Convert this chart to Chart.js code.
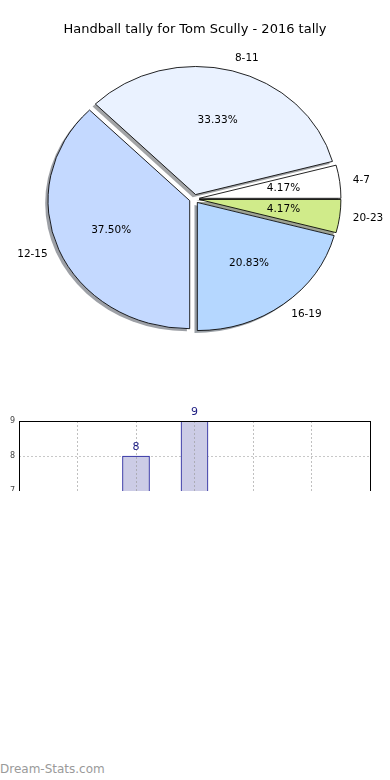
<!DOCTYPE html>
<html><head><meta charset="utf-8">
<script src="https://cdn.jsdelivr.net/npm/chart.js@4.4.1/dist/chart.umd.min.js"></script>
<style>
html,body{margin:0;padding:0;background:#fff;width:390px;height:780px;overflow:hidden;position:relative}
#pieBox{position:absolute;left:0;top:0;width:390px;height:400px}
#barClip{position:absolute;left:0;top:400px;width:390px;height:91px;overflow:hidden}
#barBox{position:absolute;left:0;top:0;width:390px;height:400px}
#wm{position:absolute;left:0;top:762px;font:12px "DejaVu Sans";line-height:14px;color:#9a9a9a}
</style></head><body>
<div id="pieBox"><canvas id="pie"></canvas></div>
<div id="barClip"><div id="barBox"><canvas id="bar"></canvas></div></div>
<div id="wm">Dream-Stats.com</div>
<script>
const chartTitle = 'Handball tally for Tom Scully - 2016 tally';
const categories = ['4-7', '8-11', '12-15', '16-19', '20-23'];
const tally = [1, 8, 9, 5, 1];
const pieColors = ['#ffffff', '#eaf2ff', '#c4d9ff', '#b5d7ff', '#d0eb8a'];
const barLabels = ['', '4-7', '8-11', '12-15', '16-19', '20-23', ''];
const barValues = [null, 1, 8, 9, 5, 1, null];

const FONT = '"DejaVu Sans", "Liberation Sans", sans-serif';
const K = 128.1 / 141.7;        // vertical squash of the pie (ellipse)
const EXPLODE = 0.035;          // fraction of radius
const SHADOW_OFF = 0.02;        // fraction of radius

const total = tally.reduce((s, v) => s + v, 0);
const order = [4, 3, 2, 1, 0];  // drawn clockwise from 3 o'clock

function hexRgb(h){h=h.replace('#','');return [0,2,4].map(i=>parseInt(h.substr(i,2),16));}

const piePlugin = {
  id: 'piePlugin',
  beforeDatasetsDraw(chart) {
    const ctx = chart.ctx;
    const meta = chart.getDatasetMeta(0);
    const a0 = meta.data[0];
    const cx = a0.x, cy = a0.y;
    ctx.save();
    ctx.translate(cx, cy); ctx.scale(1, K); ctx.translate(-cx, -cy);
    meta.data.forEach((a, i) => {
      const mid = (a.startAngle + a.endAngle) / 2;
      const R = a.outerRadius, e = EXPLODE * R;
      const x = a.x + Math.cos(mid) * e - SHADOW_OFF * R;
      const y = a.y + Math.sin(mid) * e + SHADOW_OFF * R;
      const c = hexRgb(chart.data.datasets[0].backgroundColor[i]);
      ctx.fillStyle = `rgba(${c.map(v=>Math.round(v*0.3)).join(',')},0.5)`;
      ctx.beginPath(); ctx.moveTo(x, y); ctx.arc(x, y, R, a.startAngle, a.endAngle); ctx.closePath(); ctx.fill();
    });
    meta.data.forEach(a => {
      const mid = (a.startAngle + a.endAngle) / 2;
      const e = EXPLODE * a.outerRadius;
      ctx.save();
      ctx.translate(Math.cos(mid) * e, Math.sin(mid) * e);
      a.draw(ctx);
      ctx.restore();
    });
    ctx.restore();
    return false;
  },
  beforeDatasetDraw() { return false; },
  afterDraw(chart) {
    const ctx = chart.ctx;
    const meta = chart.getDatasetMeta(0);
    ctx.save();
    ctx.fillStyle = '#000';
    ctx.font = '13px ' + FONT;
    ctx.textAlign = 'center'; ctx.textBaseline = 'middle';
    ctx.fillText(chartTitle, 195, 30);
    ctx.font = '10.5px ' + FONT;
    meta.data.forEach((a, i) => {
      const mid = (a.startAngle + a.endAngle) / 2;
      const R = a.outerRadius, e = EXPLODE * R;
      const cos = Math.cos(mid), sin = Math.sin(mid);
      const v = chart.data.datasets[0].data[i];
      let d = 0.6 * R + e;
      ctx.textAlign = 'center';
      ctx.fillText((v / total * 100).toFixed(2) + '%', a.x + cos * d, a.y + sin * d * K);
      d = 1.1 * R + e;
      ctx.textAlign = cos >= 0 ? 'left' : 'right';
      ctx.fillText(chart.data.labels[i], a.x + cos * d + (cos >= 0 ? -1 : 2), a.y + sin * d * K);
    });
    ctx.restore();
  }
};

new Chart(document.getElementById('pie'), {
  type: 'pie',
  data: {
    labels: order.map(i => categories[i]),
    datasets: [{
      data: order.map(i => tally[i]),
      backgroundColor: order.map(i => pieColors[i]),
      borderColor: '#000', borderWidth: 0.9, borderJoinStyle: 'miter', offset: 0
    }]
  },
  options: {
    responsive: true, maintainAspectRatio: false, animation: false, events: [],
    rotation: 90, radius: 141.7,
    layout: { padding: { left: 0, right: 1.4, top: 0, bottom: 2.2 } },
    plugins: { legend: { display: false }, tooltip: { enabled: false } }
  },
  plugins: [piePlugin]
});

const barPlugin = {
  id: 'barPlugin',
  afterDraw(chart) {
    const ctx = chart.ctx, a = chart.chartArea;
    ctx.save();
    ctx.strokeStyle = '#000'; ctx.lineWidth = 1;
    ctx.strokeRect(Math.round(a.left) + 0.5, Math.round(a.top) + 0.5, Math.round(a.right - a.left), Math.round(a.bottom - a.top));
    ctx.fillStyle = '#1a1a80';
    ctx.font = '11px ' + FONT;
    ctx.textAlign = 'center'; ctx.textBaseline = 'middle';
    chart.getDatasetMeta(0).data.forEach((b, i) => {
      const v = chart.data.datasets[0].data[i];
      if (v == null) return;
      ctx.fillText(String(v), b.x, b.y - 8.5);
    });
    ctx.restore();
  }
};

new Chart(document.getElementById('bar'), {
  type: 'bar',
  data: {
    labels: barLabels,
    datasets: [{
      data: barValues, backgroundColor: '#ccccE6', borderColor: '#1a1a99',
      borderWidth: 1, borderSkipped: false, barThickness: 27
    }]
  },
  options: {
    responsive: true, maintainAspectRatio: false, animation: false, events: [],
    layout: { padding: { top: 21, right: 20, left: 0, bottom: 0 } },
    plugins: { legend: { display: false }, tooltip: { enabled: false } },
    scales: {
      x: {
        offset: false,
        grid: { color: 'rgba(150,150,150,0.6)', drawTicks: false, offset: false, z: 1 },
        border: { display: false, dash: [2, 2] },
        ticks: { font: { family: FONT, size: 8 }, color: '#444' },
        afterFit(s) { s.height = 64; }
      },
      y: {
        min: 0, max: 9,
        grid: { color: '#c8c8c8', drawTicks: false },
        border: { display: false, dash: [2, 2] },
        ticks: { stepSize: 1, padding: 4, font: { family: FONT, size: 8 }, color: '#444' },
        afterFit(s) { s.width = 19; }
      }
    }
  },
  plugins: [barPlugin]
});
</script>
</body></html>
